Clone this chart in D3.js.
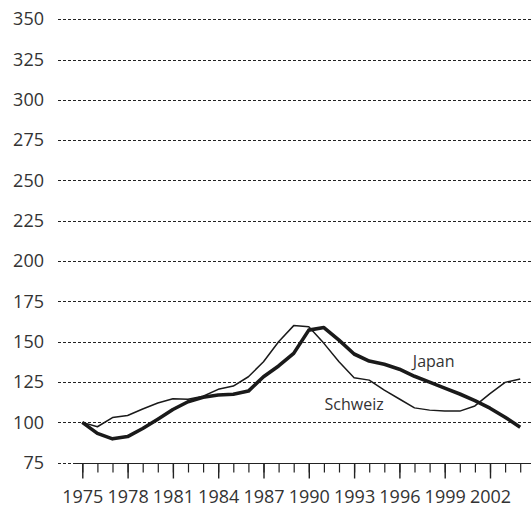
<!DOCTYPE html>
<html>
<head>
<meta charset="utf-8">
<script src="https://cdn.jsdelivr.net/npm/d3@7"></script>
<style>
  html, body { margin: 0; padding: 0; background: #fff; }
  svg { display: block; font-family: "Open Sans", "Noto Sans", sans-serif; }
</style>
</head>
<body>
<svg id="chart" width="531" height="509"></svg>
<script>
const years = d3.range(1975, 2005);
const japan = [100, 93.2, 89.8, 91.2, 96.2, 102, 108, 112.8, 115.6, 117, 117.4, 119.4, 128.3, 135, 142.8, 157.2, 158.8, 151, 142.4, 138, 136, 133, 128.6, 125, 121.2, 117.6, 113.5, 108.8, 103.2, 97];
const schweiz = [100, 97.3, 103, 104.3, 108.3, 112, 114.6, 114.3, 116.2, 120.5, 122.5, 128.3, 137.6, 150, 160, 159.3, 149, 137.6, 127.7, 126.2, 120, 114.5, 109, 107.6, 107, 107, 110.2, 117.8, 124.8, 126.9];
const yTicks = [75, 100, 125, 150, 175, 200, 225, 250, 275, 300, 325, 350];
const majorYears = [1975, 1978, 1981, 1984, 1987, 1990, 1993, 1996, 1999, 2002];
const seriesLabels = [
  { name: "Japan", year: 1998.27, value: 138 },
  { name: "Schweiz", year: 1993.0, value: 111.1 }
];

const svg = d3.select("#chart");
const textColor = "#333";

const x = d3.scaleLinear().domain([1975, 2004]).range([82.3, 520.2]);
const y = d3.scaleLinear().domain([75, 350]).range([462.7, 19.2]);

// dashed gridlines
svg.append("g")
  .selectAll("line")
  .data(yTicks)
  .join("line")
  .attr("x1", 58).attr("x2", 531)
  .attr("y1", d => Math.round(y(d)) + 0.5)
  .attr("y2", d => Math.round(y(d)) + 0.5)
  .attr("stroke", "#222")
  .attr("stroke-width", 1)
  .attr("stroke-dasharray", "3,2");

// y labels
const yAxis = svg.append("g")
  .attr("transform", "translate(44,0)")
  .call(d3.axisLeft(y).tickValues(yTicks).tickSize(0).tickPadding(0));
yAxis.select(".domain").remove();
yAxis.attr("font-size", null).attr("font-family", null);
yAxis.selectAll("text")
  .style("font-size", "18px")
  .style("font-family", "'Open Sans', sans-serif")
  .attr("fill", textColor);

const axisY = Math.round(y(75)) + 0.5;

// solid x axis line
svg.append("line")
  .attr("x1", 73).attr("x2", 531)
  .attr("y1", axisY).attr("y2", axisY)
  .attr("stroke", "#222").attr("stroke-width", 1);

// minor ticks
const minor = svg.append("g")
  .attr("transform", `translate(0,${axisY})`)
  .call(d3.axisBottom(x).tickValues(years).tickSize(9).tickFormat(""));
minor.select(".domain").remove();
minor.selectAll("line").attr("stroke", "#222").attr("stroke-width", 1.2);

// major ticks with labels
const major = svg.append("g")
  .attr("transform", `translate(0,${axisY})`)
  .call(d3.axisBottom(x).tickValues(majorYears).tickSize(15).tickPadding(12).tickFormat(d3.format("d")));
major.select(".domain").remove();
major.attr("font-size", null).attr("font-family", null);
major.selectAll("line").attr("stroke", "#222").attr("stroke-width", 1.4);
major.selectAll("text")
  .style("font-size", "18px")
  .style("font-family", "'Open Sans', sans-serif")
  .attr("fill", textColor);

const line = d3.line().x((d, i) => x(years[i])).y(d => y(d));

svg.append("path")
  .datum(schweiz)
  .attr("d", line)
  .attr("fill", "none")
  .attr("stroke", "#1a1a1a")
  .attr("stroke-width", 1.5)
  .attr("stroke-linejoin", "round");

svg.append("path")
  .datum(japan)
  .attr("d", line)
  .attr("fill", "none")
  .attr("stroke", "#1a1a1a")
  .attr("stroke-width", 3.6)
  .attr("stroke-linejoin", "round");

svg.append("g")
  .selectAll("text")
  .data(seriesLabels)
  .join("text")
  .attr("x", d => x(d.year))
  .attr("y", d => y(d.value))
  .attr("text-anchor", "middle")
  .attr("dy", "0.35em")
  .style("font-size", "16px")
  .attr("fill", textColor)
  .text(d => d.name);
</script>
</body>
</html>
